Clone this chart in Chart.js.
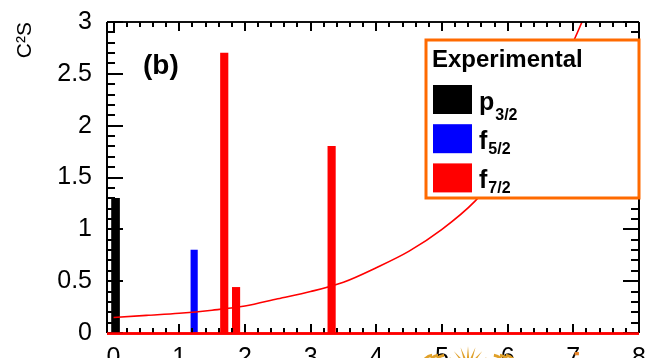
<!DOCTYPE html>
<html>
<head>
<meta charset="utf-8">
<script src="https://cdn.jsdelivr.net/npm/chart.js@4.4.1/dist/chart.umd.min.js"></script>
<style>
  html, body { margin: 0; padding: 0; background: #ffffff; }
</style>
</head>
<body>
<canvas id="c" width="651" height="358"></canvas>
<script>
// Spectroscopic strength C²S versus excitation energy, panel (b)

// Axis ticks
const xTickValues = [0, 1, 2, 3, 4, 5, 6, 7, 8];
const xTickLabels = ['0', '1', '2', '3', '4', '5', '6', '7', '8'];
const yTickValues = [0, 0.5, 1, 1.5, 2, 2.5, 3];
const yTickLabels = ['0', '0.5', '1', '1.5', '2', '2.5', '3'];

// Experimental strengths per orbital
const p32Energy = [0.03];
const p32Strength = [1.3];
const f52Energy = [1.227];
const f52Strength = [0.8];
const f72Energy = [1.685, 1.865, 3.32];
const f72Strength = [2.7, 0.44, 1.8];

// Red reference curve
const curveEnergy = [0, 0.5, 1, 1.5, 2, 2.5, 3, 3.5, 4, 4.5, 5, 5.5, 6, 6.5, 7, 7.2];
const curveStrength = [0.15, 0.17, 0.19, 0.22, 0.26, 0.33, 0.40, 0.49, 0.63, 0.79, 1.0, 1.27, 1.65, 2.18, 2.81, 3.1];

// Legend text
const legendTitle = 'Experimental';
const seriesLetters = ['p', 'f', 'f'];
const seriesSubscripts = ['3/2', '5/2', '7/2'];
const seriesColors = ['#000000', '#0000ff', '#ff0000'];
const panelLabel = '(b)';
const yAxisTitle = 'C\u00B2S';
const watermarkText = 'science';

const FONT = '"Liberation Sans", Arial, Helvetica, sans-serif';

function pts(xs, ys) { return xs.map((x, i) => ({ x: x, y: ys[i] })); }

function legendRect(area) {
  const w = 213, h = 158;
  return { x: area.right - w, y: area.top + 18, w: w, h: h };
}

// Frame with inward ticks on all four sides, red baseline at zero
function drawFrame(chart) {
  const ctx = chart.ctx;
  const area = chart.chartArea;
  const xs = chart.scales.x;
  const ys = chart.scales.y;
  ctx.save();
  ctx.strokeStyle = '#000000';
  ctx.lineWidth = 2;
  ctx.beginPath();
  for (let i = 0; i <= 30; i++) {
    const py = Math.round(ys.getPixelForValue(i / 10));
    const len = (i % 5 === 0) ? 16 : 8;
    ctx.moveTo(area.left, py);
    ctx.lineTo(area.left + len, py);
    ctx.moveTo(area.right, py);
    ctx.lineTo(area.right - len, py);
  }
  for (let i = 0; i <= 40; i++) {
    const px = Math.round(xs.getPixelForValue(i / 5));
    const len = (i % 5 === 0) ? 9 : 5;
    ctx.moveTo(px, area.bottom);
    ctx.lineTo(px, area.bottom - len);
    ctx.moveTo(px, area.top);
    ctx.lineTo(px, area.top + len);
  }
  ctx.stroke();

  ctx.lineWidth = 1.5;
  ctx.beginPath();
  ctx.moveTo(area.left, area.top);
  ctx.lineTo(area.right, area.top);
  ctx.stroke();
  ctx.lineWidth = 2;
  ctx.beginPath();
  ctx.moveTo(area.left, area.top);
  ctx.lineTo(area.left, area.bottom);
  ctx.moveTo(area.right, area.top);
  ctx.lineTo(area.right, area.bottom);
  ctx.stroke();
  ctx.strokeStyle = '#ff0000';
  ctx.lineWidth = 2.5;
  ctx.beginPath();
  ctx.moveTo(area.left, area.bottom + 0.5);
  ctx.lineTo(area.right, area.bottom + 0.5);
  ctx.stroke();
  ctx.restore();
}

// Boxed legend with subscripted orbital labels, panel tag and watermark
function drawAnnotations(chart) {
  const ctx = chart.ctx;
  const area = chart.chartArea;
  ctx.save();
  ctx.fillStyle = '#000';
  ctx.font = 'bold 28px ' + FONT;
  ctx.textBaseline = 'alphabetic';
  ctx.textAlign = 'left';
  ctx.fillText(panelLabel, area.left + 36, area.top + 52);

  const box = legendRect(area);
  const bx = box.x, by = box.y;
  ctx.fillStyle = '#ffffff';
  ctx.fillRect(bx, by, box.w, box.h);
  ctx.strokeStyle = '#ff6a00';
  ctx.lineWidth = 3;
  ctx.strokeRect(bx, by, box.w, box.h);

  ctx.fillStyle = '#000';
  ctx.font = 'bold 24px ' + FONT;
  ctx.fillText(legendTitle, bx + 6, by + 27);

  for (let i = 0; i < seriesLetters.length; i++) {
    const sy = by + 45 + i * 39.2;
    ctx.fillStyle = seriesColors[i];
    ctx.fillRect(bx + 7, sy, 39, 29);
    ctx.fillStyle = '#000';
    ctx.font = 'bold 25px ' + FONT;
    const lx = bx + 53;
    ctx.fillText(seriesLetters[i], lx, sy + 24.5);
    const lw = ctx.measureText(seriesLetters[i]).width;
    ctx.font = 'bold 16px ' + FONT;
    const subY = seriesLetters[i] === 'p' ? sy + 35 : sy + 29.5;
    ctx.fillText(seriesSubscripts[i], lx + lw + 1, subY);
  }

  // watermark at the bottom edge
  const wy = chart.height;
  ctx.fillStyle = '#e0a028';
  ctx.strokeStyle = '#e0a028';
  const cx = 468, cy = wy + 10;
  for (let k = 0; k < 9; k++) {
    const a = Math.PI + (k + 0.5) * Math.PI / 9;
    ctx.beginPath();
    ctx.moveTo(cx + 9 * Math.cos(a - 0.13), cy + 9 * Math.sin(a - 0.13));
    ctx.lineTo(cx + 22 * Math.cos(a), cy + 22 * Math.sin(a));
    ctx.lineTo(cx + 9 * Math.cos(a + 0.13), cy + 9 * Math.sin(a + 0.13));
    ctx.closePath();
    ctx.fill();
  }
  ctx.beginPath();
  ctx.arc(cx, cy, 10, 0, Math.PI * 2);
  ctx.fill();
  ctx.lineWidth = 3;
  for (let k = 0; k < 3; k++) {
    ctx.beginPath();
    ctx.arc(446 - k * 6, wy + 9, 12, Math.PI * 1.05, Math.PI * 1.45);
    ctx.stroke();
    ctx.beginPath();
    ctx.arc(492 + k * 6, wy + 9, 12, Math.PI * 1.55, Math.PI * 1.95);
    ctx.stroke();
  }
  ctx.fillStyle = '#e8862a';
  ctx.font = 'bold 31px ' + FONT;
  ctx.fillText(watermarkText, 538, wy + 17);
  ctx.restore();
}

const overlayPlugin = {
  id: 'overlay',
  afterDraw(chart) {
    drawFrame(chart);
    drawAnnotations(chart);
    // restate the frame on top of everything except the legend box
    const ctx = chart.ctx;
    const box = legendRect(chart.chartArea);
    ctx.save();
    ctx.beginPath();
    ctx.rect(0, 0, chart.width, chart.height);
    ctx.rect(box.x - 2, box.y - 2, box.w + 4, box.h + 4);
    ctx.clip('evenodd');
    drawFrame(chart);
    ctx.restore();
  }
};

const tickFont = { family: FONT, size: 25 };

new Chart(document.getElementById('c'), {
  type: 'bar',
  data: {
    datasets: [
      {
        type: 'line',
        label: 'curve',
        data: pts(curveEnergy, curveStrength),
        borderColor: '#ff0000',
        borderWidth: 1.6,
        pointRadius: 0,
        cubicInterpolationMode: 'monotone',
        fill: false,
        order: 0
      },
      {
        label: 'p3/2',
        data: pts(p32Energy, p32Strength),
        backgroundColor: seriesColors[0],
        barThickness: 8,
        grouped: false,
        borderWidth: 0,
        order: 1
      },
      {
        label: 'f5/2',
        data: pts(f52Energy, f52Strength),
        backgroundColor: seriesColors[1],
        barThickness: 6.5,
        grouped: false,
        borderWidth: 0,
        order: 1
      },
      {
        label: 'f7/2',
        data: pts(f72Energy, f72Strength),
        backgroundColor: seriesColors[2],
        barThickness: 7.5,
        grouped: false,
        borderWidth: 0,
        order: 1
      }
    ]
  },
  options: {
    responsive: false,
    animation: false,
    layout: { padding: { top: 21, right: 12, left: 0, bottom: 0 } },
    plugins: {
      legend: { display: false },
      tooltip: { enabled: false }
    },
    scales: {
      x: {
        type: 'linear',
        min: -0.1,
        max: 8,
        offset: false,
        grid: { display: false, offset: false },
        border: { display: false },
        ticks: {
          font: tickFont,
          color: '#000',
          padding: 2,
          maxRotation: 0,
          autoSkip: false,
          callback: (v) => { const i = xTickValues.indexOf(v); return i >= 0 ? xTickLabels[i] : ''; }
        },
        afterBuildTicks: (s) => { s.ticks = xTickValues.map(v => ({ value: v })); },
        afterFit: (s) => { s.height = 25; }
      },
      y: {
        type: 'linear',
        min: 0,
        max: 3,
        grid: { display: false },
        border: { display: false },
        ticks: {
          font: tickFont,
          color: '#000',
          padding: 7,
          autoSkip: false,
          callback: (v) => { const i = yTickValues.indexOf(v); return i >= 0 ? yTickLabels[i] : ''; }
        },
        afterBuildTicks: (s) => { s.ticks = yTickValues.map(v => ({ value: v })); },
        afterFit: (s) => { s.width = 107; },
        title: {
          display: true,
          text: yAxisTitle,
          align: 'end',
          color: '#000',
          font: { family: FONT, size: 21 },
          padding: { top: 13, bottom: 0 }
        }
      }
    }
  },
  plugins: [overlayPlugin]
});
</script>
</body>
</html>
